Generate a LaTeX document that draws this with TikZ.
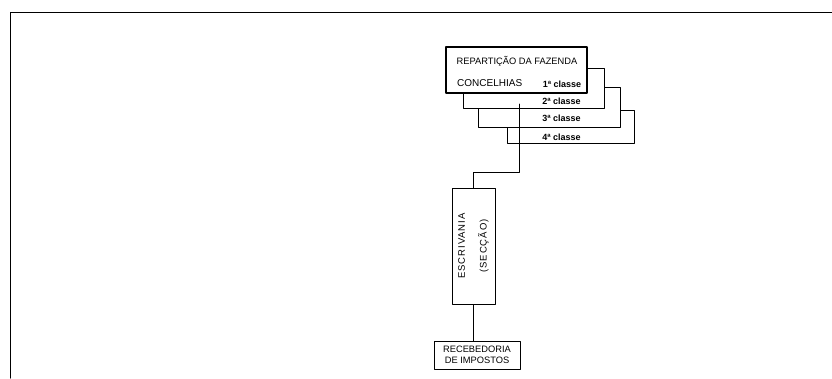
\documentclass[tikz,border=0pt]{standalone}
\usepackage{fontspec}
\usepackage{graphicx}
\setsansfont{Liberation Sans}
\newfontfamily\spacedsans[LetterSpace=10]{Liberation Sans}
\begin{document}
\begin{tikzpicture}[x=1pt, y=-1pt, line cap=round, line join=round,
  font=\sffamily,
  classbox/.style={draw, fill=white, line width=0.9pt, inner sep=0pt},
  classlbl/.style={inner sep=0pt, font=\sffamily\bfseries\fontsize{9}{10}\selectfont},
  unitbox/.style={draw, line width=0.9pt, inner sep=0pt, align=center}]
  \useasboundingbox (0,0) rectangle (832,378);
  % frame
  \draw[line width=1pt] (10,378) -- (10,12) -- (832,12);
  % stacked class boxes, back to front
  \node[classbox, minimum width=127, minimum height=33] (c4) at (570.5,126.5) {};
  \node[classbox, minimum width=142, minimum height=40] (c3) at (549,107) {};
  \node[classbox, minimum width=141, minimum height=40] (c2) at (533.5,88) {};
  \node[classbox, line width=1.3pt, minimum width=141, minimum height=46] (c1) at (516.5,70) {};
  \node[inner sep=0pt, font=\sffamily\fontsize{9.3}{10}\selectfont] (rep) at (517,61) {REPARTIÇÃO DA FAZENDA};
  \node[inner sep=0pt, anchor=west, font=\sffamily\fontsize{10}{11}\selectfont] (conc) at (457,83) {CONCELHIAS};
  \node[classlbl] (l1) at (562,84) {1ª classe};
  \node[classlbl] (l2) at (561.5,101) {2ª classe};
  \node[classlbl] (l3) at (561.5,118.5) {3ª classe};
  \node[classlbl] (l4) at (561.5,137) {4ª classe};
  \coordinate (tap) at (519,104);
  % lower units
  \node[unitbox, minimum width=43, minimum height=116] (escr) at (473.5,246)
    {\rotatebox{90}{\spacedsans\fontsize{9.5}{11}\selectfont
      \begin{tabular}{@{}c@{}}ESCRIVANIA\\[10pt](SECÇÃO)\end{tabular}}};
  \node[unitbox, minimum width=86, minimum height=28, font=\sffamily\fontsize{9.3}{11}\selectfont] (rec) at (477,355)
    {RECEBEDORIA\\DE IMPOSTOS};
  \draw[line width=0.9pt] (tap) -- ++(0,68) -| (escr.north);
  \draw[line width=0.9pt] (escr.south) -- (escr.south |- rec.north);
\end{tikzpicture}
\end{document}
